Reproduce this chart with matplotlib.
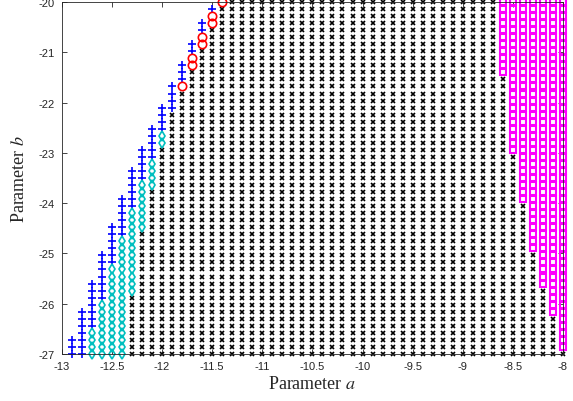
import matplotlib
matplotlib.use('Agg')

import numpy as np
import matplotlib.pyplot as plt

# grid of parameter values (51 x 51)
a_vals = np.round(np.linspace(-13, -8, 51), 2)
b_vals = np.round(np.linspace(-27, -20, 51), 2)

# left edge of the region: per column (a from -13.0 to -11.4)
# top row index, number of '+' at the top, number of diamond/circle below them
left_a = [-13.0, -12.9, -12.8, -12.7, -12.6, -12.5, -12.4, -12.3, -12.2,
          -12.1, -12.0, -11.9, -11.8, -11.7, -11.6, -11.5, -11.4]
top_row = [-1, 2, 6, 10, 14, 18, 22, 26, 29, 32, 35, 38, 41, 44, 47, 49, 50]
n_plus = [0, 3, 7, 7, 7, 6, 6, 6, 5, 5, 4, 4, 3, 2, 2, 1, 0]
n_mid = [0, 0, 0, 4, 8, 13, 17, 12, 7, 4, 2, 0, 1, 2, 2, 2, 1]
mid_kind = ['d'] * 11 + ['o'] * 6   # diamonds up to a=-12.0, circles after

# right edge: magenta squares from this row index up to the top
right_a = [-8.6, -8.5, -8.4, -8.3, -8.2, -8.1, -8.0]
sq_from = [40, 29, 22, 15, 10, 6, 1]

# label grid: 0 empty, 1 x, 2 plus, 3 diamond, 4 circle, 5 square
lab = np.ones((51, 51), dtype=int)
for a0, t, npl, nm, k in zip(left_a, top_row, n_plus, n_mid, mid_kind):
    i = int(np.argmin(np.abs(a_vals - a0)))
    lab[i, t + 1:] = 0
    if t >= 0:
        lab[i, t - npl + 1:t + 1] = 2
        lo = t - npl - nm + 1
        lab[i, lo:t - npl + 1] = 3 if k == 'd' else 4
for a0, s in zip(right_a, sq_from):
    i = int(np.argmin(np.abs(a_vals - a0)))
    lab[i, s:] = 5

A, B = np.meshgrid(a_vals, b_vals, indexing='ij')

plt.rcParams['mathtext.fontset'] = 'stix'
fig = plt.figure(figsize=(5.73, 4.02), dpi=100)
ax = fig.add_axes([0.108, 0.117, 0.8745, 0.8755])

styles = {
    1: dict(marker='x', color='k', ms=3.5, mew=1.2),
    2: dict(marker='+', color='#0000FF', ms=6, mew=1.2),
    3: dict(marker='d', color='#00BFBF', mfc='none', ms=5.5, mew=1.2),
    4: dict(marker='o', color='#FF0000', mfc='none', ms=6, mew=1.2),
    5: dict(marker='s', color='#FF00FF', mfc='none', ms=5, mew=1.5),
}
for k, st in styles.items():
    m = lab == k
    ax.plot(A[m], B[m], ls='none', clip_on=False, **st)

ax.set_xlim(-13, -8)
ax.set_ylim(-27, -20)
ax.set_xticks(np.arange(-13, -7.9, 0.5))
ax.set_xticklabels(['-13', '-12.5', '-12', '-11.5', '-11', '-10.5', '-10',
                    '-9.5', '-9', '-8.5', '-8'])
ax.set_yticks(np.arange(-27, -19.9, 1))
ax.set_yticklabels(['-27', '-26', '-25', '-24', '-23', '-22', '-21', '-20'])
ax.tick_params(direction='in', length=3.5, width=0.6, top=True, right=True,
               labelsize=8, colors='#262626', pad=5)
for lbl in ax.get_xticklabels() + ax.get_yticklabels():
    lbl.set_fontfamily('Liberation Sans')
for sp in ax.spines.values():
    sp.set_linewidth(0.6)
    sp.set_color('#262626')

ax.set_xlabel(r'Parameter $a$', fontfamily='Liberation Serif', fontsize=13,
              color='#262626', labelpad=3)
ax.set_ylabel(r'Parameter $b$', fontfamily='Liberation Serif', fontsize=13,
              color='#262626', labelpad=8)

fig.savefig('out.png', dpi=100)
